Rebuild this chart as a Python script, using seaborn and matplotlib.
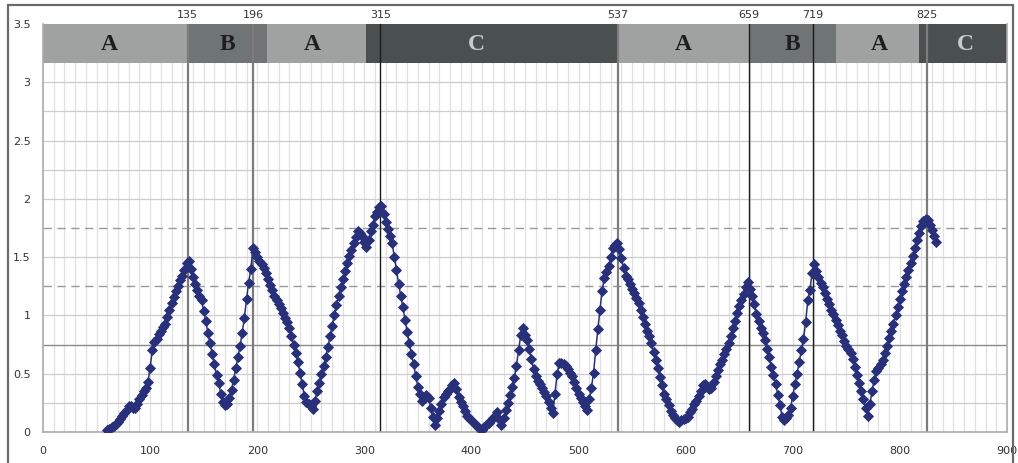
import numpy as np
import pandas as pd
import matplotlib
matplotlib.use("Agg")
import matplotlib.pyplot as plt
from matplotlib.patches import Rectangle
import seaborn as sns

# ---- data ----
x_start = 60
x_step = 2
y_values = [
    0.02, 0.03, 0.04, 0.05, 0.07, 0.09, 0.11, 0.14, 0.16, 0.19,   # 60-78
    0.22, 0.22, 0.21, 0.21, 0.24, 0.28, 0.32, 0.35, 0.38, 0.43,   # 80-98
    0.55, 0.70, 0.77, 0.80, 0.84, 0.87, 0.90, 0.93, 0.99, 1.05,   # 100-118
    1.11, 1.16, 1.21, 1.25, 1.30, 1.34, 1.39, 1.45, 1.47, 1.40,   # 120-138
    1.33, 1.27, 1.22, 1.17, 1.13, 1.04, 0.95, 0.85, 0.76, 0.67,   # 140-158
    0.58, 0.49, 0.42, 0.33, 0.26, 0.23, 0.24, 0.29, 0.36, 0.45,   # 160-178
    0.55, 0.64, 0.74, 0.85, 0.98, 1.14, 1.28, 1.40, 1.58, 1.54,   # 180-198
    1.50, 1.47, 1.44, 1.41, 1.36, 1.31, 1.26, 1.22, 1.17, 1.13,   # 200-218
    1.10, 1.06, 1.02, 0.98, 0.94, 0.89, 0.82, 0.75, 0.68, 0.60,   # 220-238
    0.51, 0.41, 0.31, 0.26, 0.24, 0.22, 0.20, 0.27, 0.35, 0.42,   # 240-258
    0.50, 0.57, 0.64, 0.73, 0.82, 0.91, 1.00, 1.09, 1.17, 1.24,   # 260-278
    1.31, 1.38, 1.45, 1.51, 1.56, 1.62, 1.67, 1.72, 1.71, 1.68,   # 280-298
    1.63, 1.59, 1.65, 1.72, 1.78, 1.85, 1.89, 1.93, 1.94, 1.87,   # 300-318
    1.80, 1.74, 1.68, 1.62, 1.50, 1.39, 1.27, 1.17, 1.07, 0.96,   # 320-338
    0.86, 0.76, 0.67, 0.58, 0.48, 0.39, 0.33, 0.27, 0.29, 0.32,   # 340-358
    0.29, 0.21, 0.13, 0.06, 0.12, 0.18, 0.24, 0.30, 0.33, 0.35,   # 360-378
    0.37, 0.40, 0.42, 0.37, 0.30, 0.26, 0.22, 0.18, 0.14, 0.12,   # 380-398
    0.10, 0.08, 0.06, 0.04, 0.03, 0.02, 0.04, 0.06, 0.08, 0.10,   # 400-418
    0.12, 0.14, 0.17, 0.11, 0.06, 0.12, 0.19, 0.25, 0.32, 0.39,   # 420-438
    0.46, 0.57, 0.70, 0.83, 0.89, 0.83, 0.79, 0.71, 0.63, 0.54,   # 440-458
    0.48, 0.44, 0.41, 0.38, 0.34, 0.31, 0.26, 0.21, 0.16, 0.33,   # 460-478
    0.50, 0.59, 0.59, 0.58, 0.57, 0.54, 0.51, 0.48, 0.43, 0.38,   # 480-498
    0.33, 0.29, 0.26, 0.22, 0.19, 0.28, 0.38, 0.51, 0.70, 0.88,   # 500-518
    1.05, 1.21, 1.32, 1.37, 1.42, 1.50, 1.58, 1.60, 1.62, 1.57,   # 520-538
    1.49, 1.41, 1.34, 1.31, 1.27, 1.23, 1.19, 1.15, 1.11, 1.05,   # 540-558
    0.99, 0.93, 0.87, 0.82, 0.76, 0.69, 0.62, 0.55, 0.47, 0.40,   # 560-578
    0.33, 0.28, 0.23, 0.18, 0.15, 0.12, 0.10, 0.09, 0.10, 0.11,   # 580-598
    0.12, 0.13, 0.17, 0.20, 0.24, 0.27, 0.31, 0.35, 0.40, 0.41,   # 600-618
    0.39, 0.37, 0.38, 0.43, 0.48, 0.53, 0.58, 0.62, 0.67, 0.71,   # 620-638
    0.76, 0.82, 0.89, 0.95, 1.02, 1.08, 1.13, 1.18, 1.24, 1.29,   # 640-658
    1.23, 1.17, 1.10, 1.01, 0.95, 0.89, 0.85, 0.79, 0.71, 0.64,   # 660-678
    0.56, 0.49, 0.41, 0.32, 0.23, 0.13, 0.10, 0.12, 0.15, 0.21,   # 680-698
    0.31, 0.41, 0.50, 0.60, 0.70, 0.80, 0.94, 1.13, 1.22, 1.36,   # 700-718
    1.44, 1.38, 1.33, 1.28, 1.24, 1.19, 1.14, 1.10, 1.05, 1.01,   # 720-738
    0.96, 0.92, 0.87, 0.83, 0.78, 0.74, 0.71, 0.68, 0.63, 0.56,   # 740-758
    0.49, 0.42, 0.35, 0.28, 0.21, 0.14, 0.24, 0.35, 0.45, 0.52,   # 760-778
    0.55, 0.58, 0.62, 0.68, 0.74, 0.81, 0.87, 0.93, 1.00, 1.07,   # 780-798
    1.14, 1.21, 1.27, 1.33, 1.39, 1.45, 1.51, 1.58, 1.65, 1.71,   # 800-818
    1.77, 1.81, 1.83, 1.82, 1.78, 1.73, 1.68, 1.63,               # 820-834
]

event_positions = [135, 196, 315, 537, 659, 719, 825]
event_dark = [False, False, True, False, True, True, False]

segment_starts = [0, 135, 209, 302, 537, 659, 740, 818]
segment_ends = [135, 209, 302, 537, 659, 740, 818, 900]
segment_labels = ["A", "B", "A", "C", "A", "B", "A", "C"]
segment_label_x = [62, 172, 251, 405, 598, 700, 781, 861]

x_ticks = [0, 100, 200, 300, 400, 500, 600, 700, 800, 900]
y_ticks = [0, 0.5, 1, 1.5, 2, 2.5, 3, 3.5]
dashed_levels = [1.25, 1.75]
solid_level = 0.75

# ---- styling ----
sns.set_style("white")
plt.rcParams["font.family"] = ["DejaVu Sans"]

band_colors = {"A": "#a0a2a1", "B": "#6f7574", "C": "#4a4f4f"}
letter_colors = {"A": "#1e1e1e", "B": "#1e1e1e", "C": "#c9cbcb"}
navy = "#28307a"
band_bottom = 3.165
y_top = 3.5

fig = plt.figure(figsize=(10.18, 4.63), dpi=100)
ax = fig.add_axes([43 / 1018, 31 / 463, 964 / 1018, 408 / 463])
ax.set_xlim(0, 900)
ax.set_ylim(0, y_top)

# grid
for gx in np.arange(10, 900, 10):
    ax.axvline(gx, color="#e0e0e0", lw=0.9, zorder=0.5)
for gy in np.arange(0.25, y_top, 0.25):
    if any(abs(gy - d) < 1e-6 for d in dashed_levels) or abs(gy - solid_level) < 1e-6:
        continue
    ax.axhline(gy, color="#cdcdcd", lw=0.9, zorder=0.6)
for d in dashed_levels:
    ax.axhline(d, color="#9a9a9a", lw=1.0, ls=(0, (6, 4)), zorder=0.7)
ax.axhline(solid_level, color="#8a8a8a", lw=1.0, zorder=0.7)

# top band
for s, e, lab, lx in zip(segment_starts, segment_ends, segment_labels, segment_label_x):
    ax.add_patch(Rectangle((s, band_bottom), e - s, y_top - band_bottom,
                           facecolor=band_colors[lab], edgecolor="none", zorder=2))
    ax.text(lx, (band_bottom + y_top) / 2 - 0.01, lab, ha="center", va="center",
            fontsize=17, fontweight="bold", family=["Liberation Serif", "DejaVu Serif"],
            color=letter_colors[lab], zorder=5)

# event lines and labels
for ex, dark in zip(event_positions, event_dark):
    ax.axvline(ex, color="#1c1c1c" if dark else "#7c7c7c", lw=1.0 if dark else 1.6, zorder=2.5)
    ax.text(ex, y_top + 0.035, str(ex), ha="center", va="bottom", fontsize=8,
            color="#333333", clip_on=False)

# data series
df = pd.DataFrame({"x": x_start + x_step * np.arange(len(y_values)), "y": y_values})
sns.lineplot(data=df, x="x", y="y", ax=ax, estimator=None, sort=False,
             color=navy, linewidth=1.1, marker="D", markersize=4.6,
             markeredgecolor=navy, markeredgewidth=0.6, zorder=3)

# axes cosmetics
ax.set_xticks(x_ticks)
ax.set_xticklabels([str(v) for v in x_ticks])
ax.set_yticks(y_ticks)
ax.set_yticklabels([f"{v:g}" for v in y_ticks])
ax.set_xlabel("")
ax.set_ylabel("")
ax.tick_params(axis="both", which="major", length=4, width=1, color="#999999",
               labelsize=8, labelcolor="#333333", direction="out", pad=5)
ax.tick_params(axis="x", pad=6)
for side in ["left", "bottom", "right"]:
    ax.spines[side].set_color("#aaaaaa")
    ax.spines[side].set_linewidth(1.2)
ax.spines["top"].set_visible(False)

# outer frame
fig.add_artist(Rectangle((8 / 1018, -0.05), (1013 - 8) / 1018, 1.05 - 5 / 463,
                         transform=fig.transFigure, fill=False,
                         edgecolor="#6a6a6a", lw=1.6))

fig.savefig("out.png", dpi=100)
